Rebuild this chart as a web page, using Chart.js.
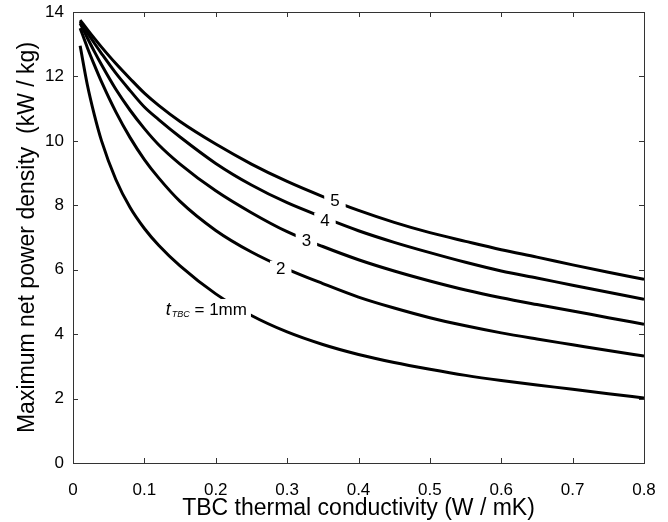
<!DOCTYPE html>
<html>
<head>
<meta charset="utf-8">
<script src="https://cdn.jsdelivr.net/npm/chart.js@4.4.0/dist/chart.umd.min.js"></script>
<style>
  body { margin: 0; background: #fff; }
  #chart { display: block; }
</style>
</head>
<body>
<canvas id="chart" width="668" height="522"></canvas>
<script>
// TBC thermal conductivity (W / mK)
const conductivity = [0.01, 0.02, 0.03, 0.04, 0.06, 0.08, 0.1, 0.12, 0.15, 0.2, 0.25, 0.3, 0.35, 0.4, 0.45, 0.5, 0.55, 0.6, 0.65, 0.7, 0.75, 0.8];

// max net power density (kW / kg) for each TBC thickness
const tbc1mm = [12.95, 11.75, 10.8, 10.0, 8.8, 7.93, 7.28, 6.76, 6.12, 5.25, 4.58, 4.07, 3.68, 3.37, 3.12, 2.91, 2.72, 2.56, 2.42, 2.29, 2.15, 2.02];
const tbc2mm = [13.5, 12.9, 12.35, 11.83, 10.9, 10.1, 9.42, 8.85, 8.12, 7.22, 6.55, 6.02, 5.57, 5.15, 4.81, 4.51, 4.26, 4.04, 3.85, 3.67, 3.49, 3.32];
const tbc3mm = [13.65, 13.2, 12.77, 12.36, 11.6, 10.95, 10.38, 9.88, 9.28, 8.45, 7.77, 7.18, 6.72, 6.31, 5.96, 5.65, 5.37, 5.13, 4.92, 4.72, 4.51, 4.31];
const tbc4mm = [13.7, 13.36, 13.03, 12.71, 12.1, 11.56, 11.05, 10.66, 10.12, 9.3, 8.63, 8.08, 7.63, 7.21, 6.85, 6.53, 6.23, 5.96, 5.74, 5.52, 5.3, 5.08];
const tbc5mm = [13.75, 13.46, 13.18, 12.91, 12.4, 11.93, 11.48, 11.1, 10.6, 9.9, 9.28, 8.74, 8.27, 7.84, 7.47, 7.15, 6.88, 6.62, 6.39, 6.15, 5.92, 5.70];

const xTicks = [0, 0.1, 0.2, 0.3, 0.4, 0.5, 0.6, 0.7, 0.8];
const yTicks = [0, 2, 4, 6, 8, 10, 12, 14];

// inline curve labels (anchor in data units)
const curveLabels = [
  { text: '5', x: 0.367, y: 8.12 },
  { text: '4', x: 0.353, y: 7.49 },
  { text: '3', x: 0.327, y: 6.87 },
  { text: '2', x: 0.291, y: 6.0 }
];
const firstLabel = { x: 0.13, y: 4.75 };

const FONT = '"Liberation Sans", Arial, Helvetica, sans-serif';

const toPoints = (ys) => conductivity.map((x, i) => ({ x: x, y: ys[i] }));

const makeSet = (name, ys) => ({
  label: name,
  data: toPoints(ys),
  borderColor: '#000',
  borderWidth: 3,
  pointRadius: 0,
  fill: false,
  cubicInterpolationMode: 'monotone'
});

// box around the plot with inward ticks on all sides
const boxPlugin = {
  id: 'boxTicks',
  afterDraw(chart) {
    const { ctx, chartArea: a, scales } = chart;
    ctx.save();
    ctx.strokeStyle = '#333';
    ctx.lineWidth = 1;
    ctx.strokeRect(a.left + 0.5, a.top + 0.5, a.right - a.left, a.bottom - a.top);
    ctx.beginPath();
    xTicks.forEach(v => {
      const px = Math.round(scales.x.getPixelForValue(v)) + 0.5;
      ctx.moveTo(px, a.bottom); ctx.lineTo(px, a.bottom - 5);
      ctx.moveTo(px, a.top); ctx.lineTo(px, a.top + 5);
    });
    yTicks.forEach(v => {
      const py = Math.round(scales.y.getPixelForValue(v)) + 0.5;
      ctx.moveTo(a.left, py); ctx.lineTo(a.left + 5, py);
      ctx.moveTo(a.right, py); ctx.lineTo(a.right - 5, py);
    });
    ctx.stroke();
    ctx.restore();
  }
};

// labels sitting on the curves, with a white patch behind them
const labelPlugin = {
  id: 'curveLabels',
  afterDatasetsDraw(chart) {
    const { ctx, scales } = chart;
    ctx.save();
    ctx.textBaseline = 'middle';
    ctx.font = '17px ' + FONT;
    curveLabels.forEach(l => {
      const px = scales.x.getPixelForValue(l.x);
      const py = scales.y.getPixelForValue(l.y);
      const w = ctx.measureText(l.text).width;
      ctx.fillStyle = '#fff';
      ctx.fillRect(px - w / 2 - 6, py - 9, w + 12, 18);
      ctx.fillStyle = '#000';
      ctx.textAlign = 'center';
      ctx.fillText(l.text, px, py);
    });

    // t_TBC = 1mm
    const lx = scales.x.getPixelForValue(firstLabel.x);
    const ly = scales.y.getPixelForValue(firstLabel.y);
    ctx.textAlign = 'left';
    ctx.font = 'italic 18px ' + FONT;
    const wT = ctx.measureText('t').width;
    ctx.font = 'italic 9px ' + FONT;
    const wSub = ctx.measureText('TBC').width;
    ctx.font = '17px ' + FONT;
    const wRest = ctx.measureText(' = 1mm').width;
    ctx.fillStyle = '#fff';
    ctx.fillRect(lx - 3, ly - 11, wT + wSub + wRest + 8, 22);
    ctx.fillStyle = '#000';
    ctx.font = 'italic 18px ' + FONT;
    ctx.fillText('t', lx, ly);
    ctx.font = 'italic 9px ' + FONT;
    ctx.fillText('TBC', lx + wT + 1, ly + 5);
    ctx.font = '17px ' + FONT;
    ctx.fillText(' = 1mm', lx + wT + wSub + 1, ly);
    ctx.restore();
  }
};

const ctx = document.getElementById('chart').getContext('2d');
const chart = new Chart(ctx, {
  type: 'line',
  data: {
    datasets: [
      makeSet('1mm', tbc1mm),
      makeSet('2mm', tbc2mm),
      makeSet('3mm', tbc3mm),
      makeSet('4mm', tbc4mm),
      makeSet('5mm', tbc5mm)
    ]
  },
  options: {
    responsive: false,
    animation: false,
    layout: { padding: { top: 12, right: 24, left: 0, bottom: 0 } },
    plugins: { legend: { display: false }, tooltip: { enabled: false } },
    scales: {
      x: {
        type: 'linear',
        min: 0,
        max: 0.8,
        afterBuildTicks: (s) => { s.ticks = xTicks.map(v => ({ value: v })); },
        afterFit: (s) => { s.height = 59; },
        grid: { display: false },
        border: { display: false },
        ticks: {
          padding: 9,
          color: '#000',
          font: { family: FONT, size: 17 },
          maxRotation: 0,
          callback: (v) => String(v)
        },
        title: {
          display: true,
          text: 'TBC thermal conductivity (W / mK)',
          color: '#000',
          font: { family: FONT, size: 23 },
          padding: { top: 0, bottom: 0 }
        }
      },
      y: {
        min: 0,
        max: 14,
        afterBuildTicks: (s) => { s.ticks = yTicks.map(v => ({ value: v })); },
        afterFit: (s) => { s.width = 73; },
        grid: { display: false },
        border: { display: false },
        ticks: {
          padding: 1,
          color: '#000',
          font: { family: FONT, size: 17 },
          callback: (v) => String(v)
        },
        title: {
          display: true,
          text: 'Maximum net power density  (kW / kg)',
          color: '#000',
          font: { family: FONT, size: 23 },
          padding: { top: 14, bottom: 0 }
        }
      }
    }
  },
  plugins: [boxPlugin, labelPlugin]
});
</script>
</body>
</html>
